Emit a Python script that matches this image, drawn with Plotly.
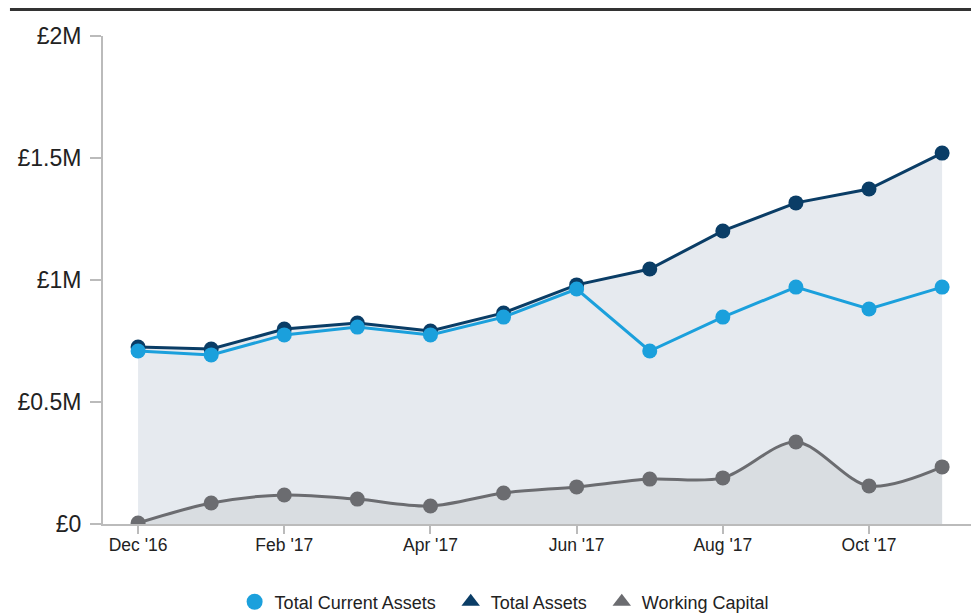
import plotly.graph_objects as go

months = ["Dec '16", "Jan '17", "Feb '17", "Mar '17", "Apr '17", "May '17",
          "Jun '17", "Jul '17", "Aug '17", "Sep '17", "Oct '17", "Nov '17"]
total_assets = [725000, 717000, 799000, 824000, 791000, 865000,
                980000, 1045000, 1201000, 1316000, 1373000, 1520000]
total_current_assets = [709000, 693000, 775000, 807000, 775000, 848000,
                        963000, 709000, 848000, 971000, 881000, 971000]
working_capital = [4000, 86000, 119000, 102000, 74000, 127000,
                   152000, 184000, 189000, 336000, 156000, 234000]
tick_labels = ["Dec '16", "Feb '17", "Apr '17", "Jun '17", "Aug '17", "Oct '17"]
y_tick_vals = [0, 500000, 1000000, 1500000, 2000000]
y_tick_text = ["£0", "£0.5M", "£1M", "£1.5M", "£2M"]

x = list(range(len(months)))
tick_pos = [months.index(t) for t in tick_labels]

NAVY = "#0a3d66"
BLUE = "#1ba0dc"
GREY = "#6b6c70"
PAD = "\u00a0\u00a0"

fig = go.Figure()
fig.add_trace(go.Scatter(
    x=x, y=total_assets, mode="lines+markers", fill="tozeroy",
    fillcolor="#e6eaef", line=dict(color=NAVY, width=3),
    marker=dict(size=15, color=NAVY), showlegend=False,
    customdata=months, hovertemplate="%{customdata}: %{y}<extra>Total Assets</extra>"))
fig.add_trace(go.Scatter(
    x=x, y=total_current_assets, mode="lines+markers",
    line=dict(color=BLUE, width=3),
    marker=dict(size=15, color=BLUE), showlegend=False,
    customdata=months, hovertemplate="%{customdata}: %{y}<extra>Total Current Assets</extra>"))
fig.add_trace(go.Scatter(
    x=x, y=working_capital, mode="lines+markers", fill="tozeroy",
    fillcolor="#d9dde1", line=dict(color=GREY, width=3, shape="spline", smoothing=0.9),
    marker=dict(size=15, color=GREY), showlegend=False,
    customdata=months, hovertemplate="%{customdata}: %{y}<extra>Working Capital</extra>"))

# legend entries
fig.add_trace(go.Scatter(x=[None], y=[None], mode="markers", name="Total Current Assets" + PAD,
                         marker=dict(size=18, color=BLUE, symbol="circle")))
fig.add_trace(go.Scatter(x=[None], y=[None], mode="markers", name="Total Assets" + PAD,
                         marker=dict(size=17, color=NAVY, symbol="triangle-up")))
fig.add_trace(go.Scatter(x=[None], y=[None], mode="markers", name="Working Capital",
                         marker=dict(size=17, color=GREY, symbol="triangle-up")))

fig.add_shape(type="line", xref="paper", yref="paper",
              x0=-0.1067, x1=1.0046, y0=1.0543, y1=1.0543,
              line=dict(color="#333333", width=3))

fig.update_layout(
    width=971, height=605,
    margin=dict(l=95, r=4, t=28, b=89, autoexpand=False),
    paper_bgcolor="white", plot_bgcolor="white",
    font=dict(family="Liberation Sans, Arial, sans-serif", color="#222222"),
    showlegend=True,
    legend=dict(orientation="h", x=0.460, xanchor="center", y=-0.16, yanchor="middle",
                font=dict(size=18, color="#222222"), itemwidth=30, tracegroupgap=0),
    xaxis=dict(range=[-0.48, 11.45], tickmode="array", tickvals=tick_pos, ticktext=tick_labels,
               automargin=False,
               showgrid=False, zeroline=False, showline=True, linecolor="#bbbbbb", linewidth=2,
               ticks="outside", ticklen=8, tickwidth=2, tickcolor="#bbbbbb",
               ticklabelstandoff=-4,
               tickfont=dict(size=17.5, color="#222222")),
    yaxis=dict(range=[0, 2000000], tickmode="array", tickvals=y_tick_vals, ticktext=y_tick_text,
               automargin=False,
               showgrid=False, zeroline=False, showline=True, linecolor="#bbbbbb", linewidth=2,
               ticks="outside", ticklen=11, tickwidth=2, tickcolor="#bbbbbb",
               ticklabelstandoff=4,
               tickfont=dict(size=23, color="#222222")),
)

fig.write_html("out.html")
